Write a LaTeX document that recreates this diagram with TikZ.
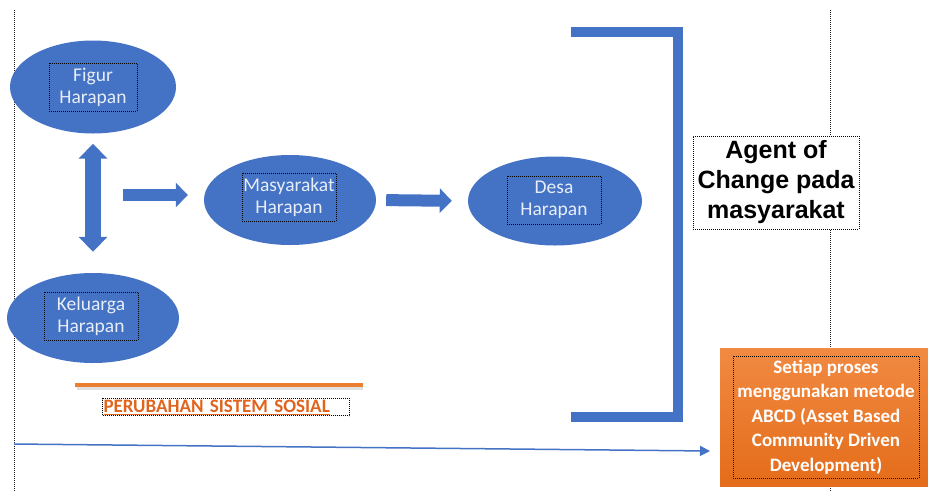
\documentclass[tikz,border=0pt]{standalone}
\usepackage{fontspec}
\setmainfont{Carlito}
\newfontfamily\arialfont{Liberation Sans}
\usepackage{xcolor}
\usepackage{tikz}
\usetikzlibrary{arrows.meta,positioning,shapes,calc}

\definecolor{hBlue}{RGB}{68,114,196}
\definecolor{hOrange}{RGB}{237,125,49}
\definecolor{hOrangeTop}{RGB}{241,138,66}
\definecolor{hOrangeBot}{RGB}{228,108,26}
\definecolor{hLabel}{RGB}{232,238,248}
\definecolor{hTitle}{RGB}{224,100,30}

\tikzset{
    harapan/.style={ellipse, fill=hBlue, minimum width=170, minimum height=90, inner sep=0},
    labelbox/.style={draw=black, densely dotted, line width=1, minimum width=92, minimum height=48, inner sep=0.5, align=center, text=hLabel, font=\fontsize{19.5}{22}\selectfont},
    blockarrow/.style={hBlue, line width=12, -{Triangle[length=12, width=24]}},
    twoway/.style={hBlue, line width=16, {Triangle[length=15, width=28]}-{Triangle[length=15, width=28]}},
    guide/.style={densely dotted, line width=1, black!90},
    flow/.style={hBlue, line width=1.5, -{Triangle[length=10, width=10]}}
}

\begin{document}
\begin{tikzpicture}[x=1pt, y=-1pt]
    \useasboundingbox (0,0) rectangle (928,491);

    % Guides
    \draw[guide] (14,10) -- (14,491);
    \draw[guide] (830,10) -- (830,491);

    % Harapan ellipses
    \node[harapan, minimum width=166, minimum height=93] (figur) at (93,87) {};
    \node[labelbox, minimum width=88] (figurtxt) at (figur) {Figur\\Harapan};
    \node[harapan, minimum width=172] (keluarga) at (93,318) {};
    \node[labelbox, minimum width=94] (keluargatxt) at (91,316) {Keluarga\\Harapan};
    \node[harapan, minimum width=172] (masy) at (290,200) {};
    \node[labelbox, minimum width=94] (masytxt) at (289,197) {Masyarakat\\Harapan};
    \node[harapan, minimum width=174, minimum height=89] (desa) at (555,201) {};
    \node[labelbox, minimum width=94] (desatxt) at (554,200) {Desa\\Harapan};

    % Block arrows
    \draw[twoway, shorten <=10, shorten >=21] (figur.south) -- (figur.south |- keluarga.north);
    \coordinate (pushstart) at (123,195);
    \draw[blockarrow, shorten >=16] (pushstart) -- (pushstart -| masy.west);
    \draw[blockarrow, shorten <=10, shorten >=16] (masy.east) -- (desa.west);

    % Bracket
    \draw[hBlue, line width=10, miter limit=4] (571,32) -| (678,417) -- (571,417);

    % Agent of change
    \node[draw=black, densely dotted, line width=1, fill=white, minimum width=166, minimum height=93, inner sep=0, align=center,
          font=\arialfont\bfseries\fontsize{25}{30}\selectfont] (agent) at (776,182.5) {Agent of\\Change pada\\masyarakat};

    % ABCD box
    \node[top color=hOrangeTop, bottom color=hOrangeBot, minimum width=208, minimum height=138, inner sep=0] (abcd) at (824,417) {};
    \node[draw=black, densely dotted, line width=1, minimum width=186, minimum height=122, inner sep=0, align=center, text=white,
          font=\bfseries\fontsize{19}{24.5}\selectfont] (abcdtxt) at (826,417) {Setiap proses\\menggunakan metode\\ABCD (Asset Based\\Community Driven\\Development)};

    % Perubahan sistem sosial
    \draw[line width=3, black!12] (77,388) -- (363,388);
    \draw[line width=4, hOrange] (75,385) -- (363,385);
    \node[draw=black, densely dotted, line width=1, anchor=north west, text width=245, inner xsep=1, inner ysep=0,
          text height=14, text depth=3, align=left, text=hTitle, font=\bfseries\fontsize{19}{19}\selectfont]
          (sistem) at (102,398) {\underline{PERUBAHAN SISTEM SOSIAL}};

    % Flow line
    \coordinate (flowstart) at (14,444);
    \coordinate (flowend) at (710,451);
    \draw[flow] (flowstart) -- (flowend);
\end{tikzpicture}
\end{document}
